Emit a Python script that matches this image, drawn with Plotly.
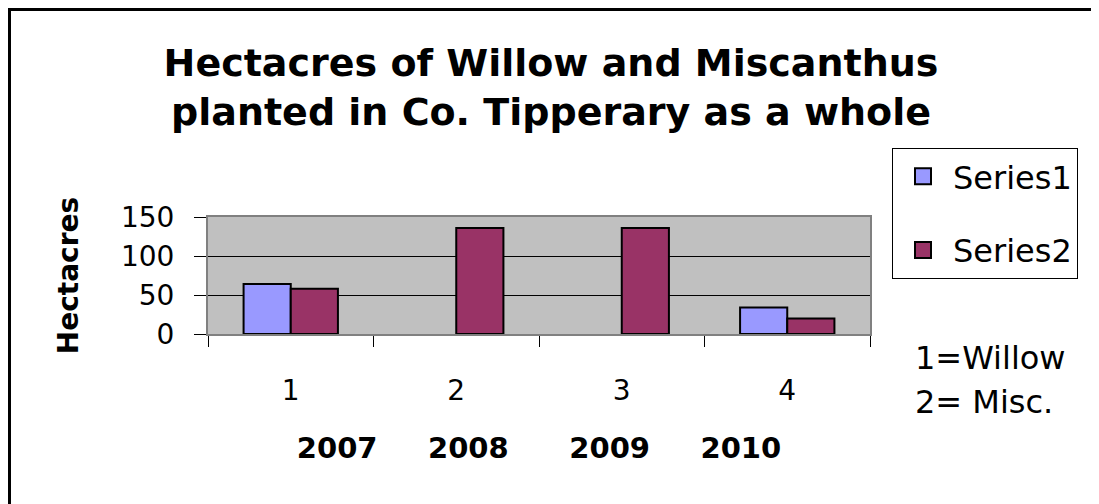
import plotly.graph_objects as go

categories = ["1", "2", "3", "4"]
series1 = [64, None, None, 34]
series2 = [58, 136, 136, 20]
years = ["2007", "2008", "2009", "2010"]
y_ticks = [0, 50, 100, 150]

FONT = "DejaVu Sans"
C1 = "#9999FF"
C2 = "#993366"

# page has an 8px body margin; figure coordinates are page - 8
W, H = 1091, 496
PL, PR, PT, PB = 200, 862, 209, 326  # plot area in figure px

fig = go.Figure()
fig.add_trace(go.Bar(x=categories, y=series1, name="Series1", marker=dict(color=C1, line=dict(color="black", width=2)), showlegend=False))
fig.add_trace(go.Bar(x=categories, y=series2, name="Series2", marker=dict(color=C2, line=dict(color="black", width=2)), showlegend=False))
# legend entries with larger square swatches
fig.add_trace(go.Scatter(x=[None], y=[None], mode="markers", name="Series1", legendgroup="a",
                         marker=dict(symbol="square", size=16, color=C1, line=dict(color="black", width=2))))
fig.add_trace(go.Scatter(x=[None], y=[None], mode="markers", name="Series2", legendgroup="b",
                         marker=dict(symbol="square", size=16, color=C2, line=dict(color="black", width=2))))

sep = ["\u00a0" * 5, "\u00a0" * 6, "\u00a0" * 5]
year_title = years[0] + sep[0] + years[1] + sep[1] + years[2] + sep[2] + years[3]


def px_x(px):
    return (px - PL) / (PR - PL)


def px_y(py):
    return (PB - py) / (PB - PT)


fig.update_layout(
    width=W, height=H,
    margin=dict(l=PL, r=W - PR, t=PT, b=H - PB),
    paper_bgcolor="white",
    plot_bgcolor="#C0C0C0",
    barmode="group", bargap=0.43, bargroupgap=0,
    font=dict(family=FONT, color="black"),
    title=dict(text="<b>Hectacres of Willow and Miscanthus<br>planted in Co. Tipperary as a whole</b>",
               x=543 / W, xanchor="center", y=1 - 68 / H, yanchor="middle", yref="container",
               font=dict(family=FONT, size=38, color="black")),
    legend=dict(x=884 / W, xref="container", xanchor="left", y=1 - 140 / H, yref="container", yanchor="top",
                bgcolor="white", bordercolor="black", borderwidth=1,
                font=dict(family=FONT, size=32, color="black"), tracegroupgap=29, itemsizing="trace",
                itemwidth=50),
    xaxis=dict(type="category", categoryorder="array", categoryarray=categories,
               showline=True, linecolor="#808080", linewidth=2, mirror=True,
               ticks="outside", tickson="boundaries", ticklen=11, tickcolor="black", tickwidth=1,
               tickfont=dict(family=FONT, size=28), ticklabelstandoff=30,
               showgrid=False,
               title=dict(text="<b>" + year_title + "</b>", font=dict(family=FONT, size=29), standoff=32)),
    yaxis=dict(range=[0, 150], tickvals=y_ticks, showline=True, linecolor="#808080", linewidth=2, mirror=True,
               ticks="outside", ticklen=12, tickcolor="black", tickwidth=1,
               tickfont=dict(family=FONT, size=28), ticklabelstandoff=14,
               showgrid=True, gridcolor="black", gridwidth=1, zeroline=False,
               title=dict(text="<b>Hectacres</b>", font=dict(family=FONT, size=28), standoff=34)),
)

fig.add_annotation(text="1=Willow", xref="paper", yref="paper", x=px_x(905), y=px_y(350),
                   xanchor="left", yanchor="middle", showarrow=False, font=dict(family=FONT, size=32))
fig.add_annotation(text="2= Misc.", xref="paper", yref="paper", x=px_x(905), y=px_y(394),
                   xanchor="left", yanchor="middle", showarrow=False, font=dict(family=FONT, size=32))

# outer chart frame (left and top edges visible)
fig.add_shape(type="line", xref="paper", yref="paper",
              x0=px_x(1.5), x1=px_x(1.5), y0=px_y(0), y1=px_y(H),
              line=dict(color="black", width=3))
fig.add_shape(type="line", xref="paper", yref="paper",
              x0=px_x(0), x1=px_x(W), y0=px_y(1.5), y1=px_y(1.5),
              line=dict(color="black", width=3))

fig.write_html("out.html", config={"displayModeBar": False})
